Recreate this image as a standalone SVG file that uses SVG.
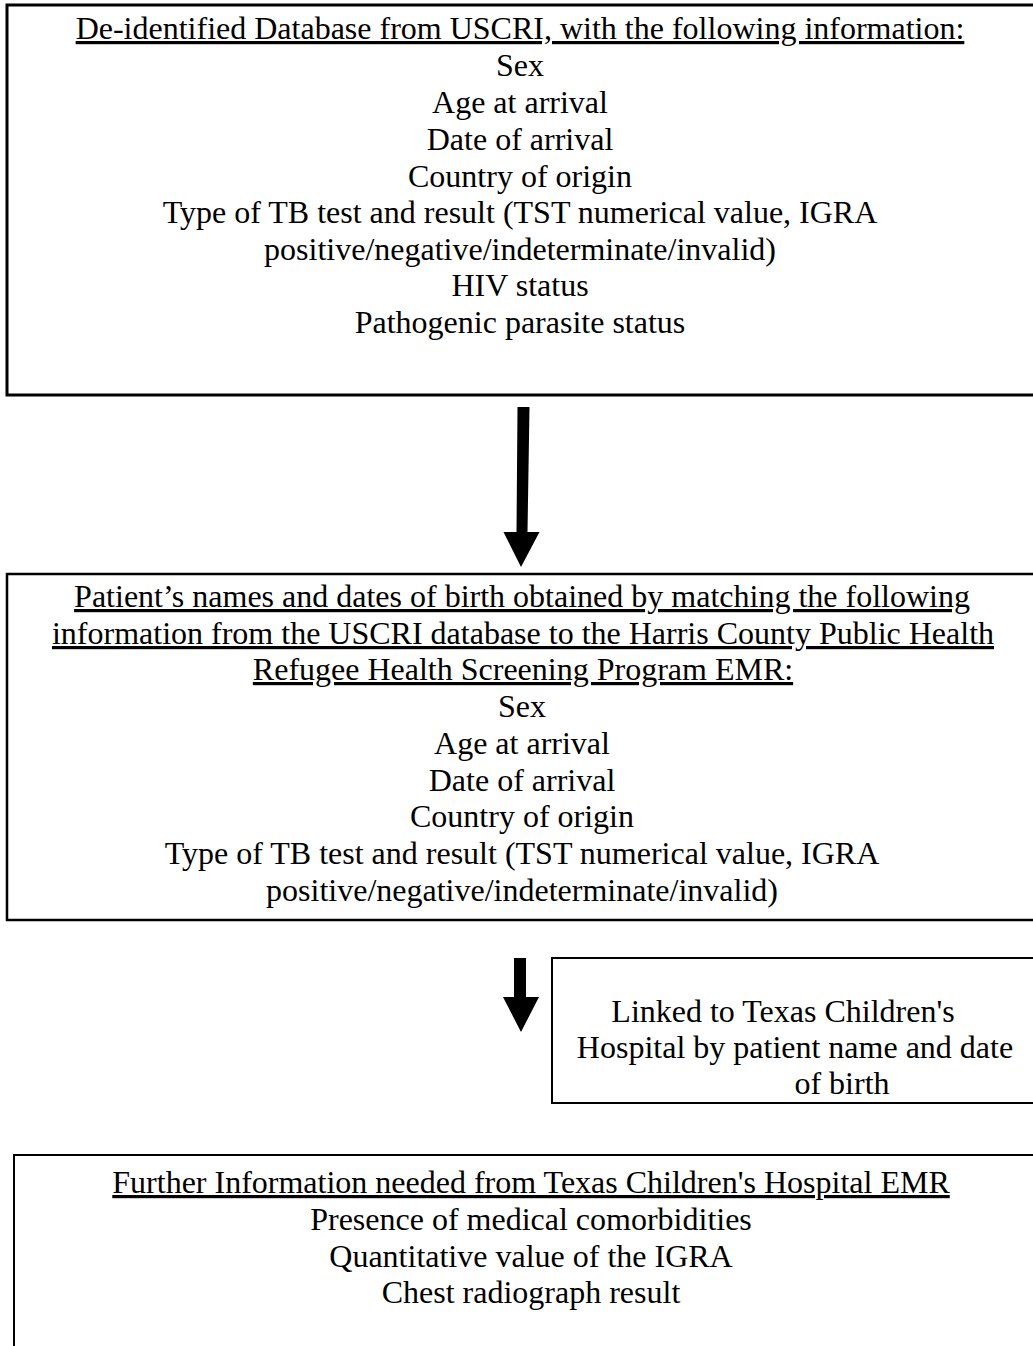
<svg xmlns="http://www.w3.org/2000/svg" width="1033" height="1346" viewBox="0 0 1033 1346">
<style>
text{font-family:"Liberation Serif","Times New Roman",serif;font-size:32px;fill:#000;text-anchor:middle}
.u{text-decoration:underline}
.box{fill:#fff;stroke:#000}
</style>
<rect width="1033" height="1346" fill="#fff"/>
<g id="connectors">
<polygon id="arrow1" points="517.5,407 529.5,407 527.5,532 539.5,532 521,567 503.5,532 516.5,532" fill="#000"/>
<polygon id="arrow2" points="514,958 526,958 526,997 539,997 521,1032 503,997 514,997" fill="#000"/>
</g>
<g id="node1">
<rect class="box" x="7" y="5" width="1040" height="390" stroke-width="3"/>
<text x="520" y="39" class="u">De-identified Database from USCRI, with the following information:</text>
<text x="520" y="76">Sex</text>
<text x="520" y="113">Age at arrival</text>
<text x="520" y="150">Date of arrival</text>
<text x="520" y="187">Country of origin</text>
<text x="520" y="223">Type of TB test and result (TST numerical value, IGRA</text>
<text x="520" y="260">positive/negative/indeterminate/invalid)</text>
<text x="520" y="296">HIV status</text>
<text x="520" y="333">Pathogenic parasite status</text>
</g>
<g id="node2">
<rect class="box" x="7" y="574" width="1040" height="346" stroke-width="2.5"/>
<text x="522" y="607" class="u">Patient’s names and dates of birth obtained by matching the following</text>
<text x="523" y="644" class="u">information from the USCRI database to the Harris County Public Health</text>
<text x="523" y="680" class="u">Refugee Health Screening Program EMR:</text>
<text x="522" y="717">Sex</text>
<text x="522" y="754">Age at arrival</text>
<text x="522" y="791">Date of arrival</text>
<text x="522" y="827">Country of origin</text>
<text x="522" y="864">Type of TB test and result (TST numerical value, IGRA</text>
<text x="522" y="901">positive/negative/indeterminate/invalid)</text>
</g>
<g id="node3">
<rect class="box" x="552" y="958" width="500" height="145" stroke-width="2"/>
<text x="783" y="1022">Linked to Texas Children's</text>
<text x="795" y="1058">Hospital by patient name and date</text>
<text x="842" y="1094">of birth</text>
</g>
<g id="node4">
<rect class="box" x="14" y="1155" width="1040" height="220" stroke-width="2"/>
<text x="531" y="1193" class="u">Further Information needed from Texas Children's Hospital EMR</text>
<text x="531" y="1230">Presence of medical comorbidities</text>
<text x="531" y="1267">Quantitative value of the IGRA</text>
<text x="531" y="1303">Chest radiograph result</text>
</g>
</svg>
